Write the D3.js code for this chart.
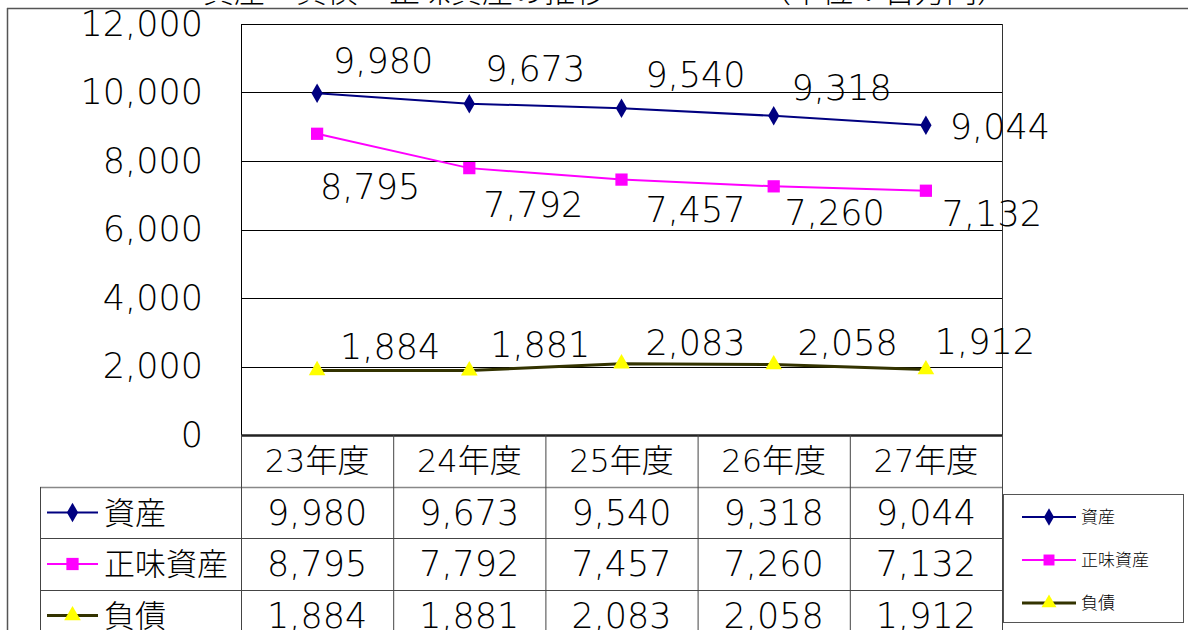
<!DOCTYPE html>
<html>
<head>
<meta charset="utf-8">
<script src="https://cdn.jsdelivr.net/npm/d3@7"></script>
<style>
  body { margin: 0; background: #fff; }
  svg { display: block; font-family: "DejaVu Sans", "Noto Sans CJK JP", sans-serif; font-weight: 300; }
</style>
</head>
<body>
<div id="chart"></div>
<script>
// data
var categories = ["23年度", "24年度", "25年度", "26年度", "27年度"];
var seriesNames = ["資産", "正味資産", "負債"];
var assets = [9980, 9673, 9540, 9318, 9044];
var netAssets = [8795, 7792, 7457, 7260, 7132];
var liabilities = [1884, 1881, 2083, 2058, 1912];
var yTicks = [0, 2000, 4000, 6000, 8000, 10000, 12000];

// styles per series (not data)
var styles = [
  { line: "#000080", fill: "#000080", marker: d3.symbolDiamond, size: 110, width: 2 },
  { line: "#ff00ff", fill: "#ff00ff", marker: d3.symbolSquare, size: 150, width: 2 },
  { line: "#333300", fill: "#ffff00", marker: d3.symbolTriangle, size: 120, width: 3 }
];
// hand-placed label offsets (dx, dy of label centre from point), like the original
var labelOffsets = [
  [[66, -32], [66, -35], [74, -33], [68, -28], [74, 2]],
  [[53, 53], [64, 37], [74, 30], [61, 27], [66, 23]],
  [[73, -23], [71, -26], [74, -21], [74, -22], [59, -28]]
];
var seriesValues = [assets, netAssets, liabilities];

var W = 1188, H = 630;
var plot = { left: 241, right: 1002, top: 24, bottom: 435 };
var fmt = d3.format(",");
var numSize = "35px";

var svg = d3.select("#chart").append("svg")
  .attr("width", W).attr("height", H);

// outer chart frame
svg.append("line").attr("x1", 7).attr("x2", W).attr("y1", 8.5).attr("y2", 8.5)
  .attr("stroke", "#555").attr("stroke-width", 1.5);
svg.append("line").attr("x1", 7.5).attr("x2", 7.5).attr("y1", 8).attr("y2", H)
  .attr("stroke", "#555").attr("stroke-width", 1.5);

// title, cut off at the top edge
svg.append("text").attr("x", 203).attr("y", 2)
  .style("font-size", "31px").attr("fill", "#000")
  .text("資産・負債・正味資産の推移");
svg.append("text").attr("x", 760).attr("y", 2)
  .style("font-size", "31px").attr("fill", "#000")
  .text("（単位：百万円）");

var x = d3.scaleBand().domain(categories).range([plot.left, plot.right]);
var y = d3.scaleLinear().domain([0, 12000]).range([plot.bottom, plot.top]);

// gridlines
svg.append("g").selectAll("line")
  .data(yTicks.filter(function(d) { return d > 0; }))
  .enter().append("line")
  .attr("x1", plot.left).attr("x2", plot.right)
  .attr("y1", function(d) { return Math.round(y(d)) + 0.5; })
  .attr("y2", function(d) { return Math.round(y(d)) + 0.5; })
  .attr("stroke", "#000").attr("stroke-width", 1);

// plot area border (left, right)
svg.append("line").attr("x1", plot.left + 0.5).attr("x2", plot.left + 0.5)
  .attr("y1", plot.top).attr("y2", plot.bottom).attr("stroke", "#000");
svg.append("line").attr("x1", plot.right + 0.5).attr("x2", plot.right + 0.5)
  .attr("y1", plot.top).attr("y2", 494).attr("stroke", "#333");

// Y axis
var yAxis = svg.append("g")
  .attr("transform", "translate(" + plot.left + ",0)")
  .call(d3.axisLeft(y).tickValues(yTicks).tickFormat(fmt).tickSize(0).tickPadding(38));
yAxis.attr("font-family", null).attr("font-size", null);
yAxis.select(".domain").remove();
yAxis.selectAll("text")
  .style("font-size", numSize)
  .attr("fill", "#000");

// data table
var rowTop = [435, 487, 538, 590, 641];
var tableLeft = 40;
var tbl = svg.append("g");
// header row
tbl.selectAll(".hcell").data(categories).enter().append("text")
  .attr("x", function(d) { return x(d) + x.bandwidth() / 2; })
  .attr("y", (rowTop[0] + rowTop[1]) / 2)
  .attr("text-anchor", "middle").attr("dominant-baseline", "central")
  .style("font-size", "32px").text(function(d) { return d; });
// horizontal rules
tbl.append("line").attr("x1", plot.left).attr("x2", plot.right)
  .attr("y1", plot.bottom + 0.5).attr("y2", plot.bottom + 0.5)
  .attr("stroke", "#222").attr("stroke-width", 2.5);
[1, 2, 3].forEach(function(i) {
  tbl.append("line").attr("x1", tableLeft).attr("x2", plot.right)
    .attr("y1", rowTop[i] + 0.5).attr("y2", rowTop[i] + 0.5)
    .attr("stroke", i === 1 ? "#888" : "#444").attr("stroke-width", i === 1 ? 1.5 : 1);
});
// vertical rules
tbl.append("line").attr("x1", tableLeft + 0.5).attr("x2", tableLeft + 0.5)
  .attr("y1", rowTop[1]).attr("y2", H).attr("stroke", "#444");
categories.forEach(function(c) {
  tbl.append("line").attr("x1", x(c) + 0.5).attr("x2", x(c) + 0.5)
    .attr("y1", plot.bottom).attr("y2", H).attr("stroke", "#444");
});
tbl.append("line").attr("x1", plot.right + 0.5).attr("x2", plot.right + 0.5)
  .attr("y1", plot.bottom).attr("y2", H).attr("stroke", "#444");

function legendKey(g, i, x0, x1, cy, markerScale) {
  var st = styles[i];
  g.append("line").attr("x1", x0).attr("x2", x1).attr("y1", cy).attr("y2", cy)
    .attr("stroke", st.line).attr("stroke-width", st.width);
  g.append("path")
    .attr("d", d3.symbol().type(st.marker).size(st.size * markerScale)())
    .attr("transform", "translate(" + ((x0 + x1) / 2) + "," + cy + ")")
    .attr("fill", st.fill);
}

seriesNames.forEach(function(name, i) {
  var cy = (rowTop[i + 1] + rowTop[i + 2]) / 2;
  legendKey(tbl, i, 47, 98, cy, 1);
  tbl.append("text").attr("x", 104).attr("y", cy)
    .attr("dominant-baseline", "central").style("font-size", "31px").text(name);
  tbl.selectAll(".v" + i).data(seriesValues[i]).enter().append("text")
    .attr("x", function(d, j) { return x(categories[j]) + x.bandwidth() / 2; })
    .attr("y", cy)
    .attr("text-anchor", "middle").attr("dominant-baseline", "central")
    .style("font-size", numSize).text(function(d) { return fmt(d); });
});

// series lines, markers and data labels
var line = d3.line()
  .x(function(d, j) { return x(categories[j]) + x.bandwidth() / 2; })
  .y(function(d) { return y(d); });

seriesValues.forEach(function(vals, i) {
  var st = styles[i];
  var g = svg.append("g");
  g.append("path").datum(vals).attr("d", line)
    .attr("fill", "none").attr("stroke", st.line).attr("stroke-width", st.width);
  g.selectAll("path.m").data(vals).enter().append("path").attr("class", "m")
    .attr("d", d3.symbol().type(st.marker).size(st.size))
    .attr("transform", function(d, j) {
      return "translate(" + (x(categories[j]) + x.bandwidth() / 2) + "," + y(d) + ")";
    })
    .attr("fill", st.fill);
  g.selectAll("text").data(vals).enter().append("text")
    .attr("x", function(d, j) { return x(categories[j]) + x.bandwidth() / 2 + labelOffsets[i][j][0]; })
    .attr("y", function(d, j) { return y(d) + labelOffsets[i][j][1]; })
    .attr("text-anchor", "middle").attr("dominant-baseline", "central")
    .style("font-size", numSize).text(function(d) { return fmt(d); });
});

// legend box
var lg = svg.append("g");
lg.append("rect").attr("x", 1003.5).attr("y", 494.5).attr("width", 180).attr("height", 128)
  .attr("fill", "#fff").attr("stroke", "#555");
seriesNames.forEach(function(name, i) {
  var cy = 517 + i * 43;
  legendKey(lg, i, 1022, 1076, cy, 0.8);
  lg.append("text").attr("x", 1081).attr("y", cy)
    .attr("dominant-baseline", "central").style("font-size", "17px").text(name);
});
</script>
</body>
</html>
